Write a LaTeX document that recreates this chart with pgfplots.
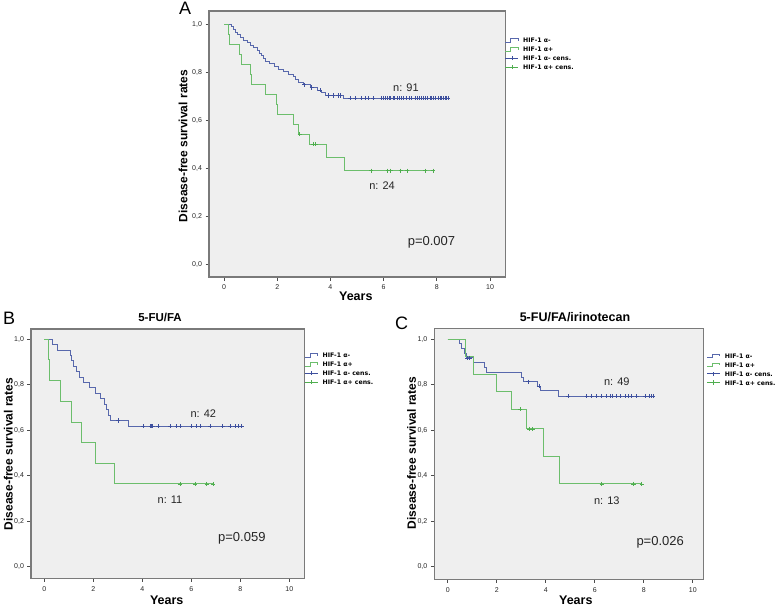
\documentclass[border=0pt]{standalone}
\usepackage{pgfplots}
\pgfplotsset{compat=1.18}
\usepackage{fontspec}
\setmainfont{Liberation Sans}
\newfontfamily\legfont{DejaVu Sans}
\definecolor{kmblue}{HTML}{5868AC}
\definecolor{kmbluec}{HTML}{3E509E}
\definecolor{kmgreen}{HTML}{6CBE6C}
\definecolor{kmgreenc}{HTML}{4FAE4F}
\definecolor{bgc}{HTML}{EFEFEF}
\definecolor{framec}{HTML}{7A7A7A}
\tikzset{
  annot/.style={font=\fontsize{11}{13}\selectfont, text=black!85},
  pval/.style={font=\fontsize{13}{15}\selectfont, text=black!85},
}
\pgfplotsset{
  kmaxis/.style={
    scale only axis,
    axis background/.style={fill=bgc},
    axis line style={draw=framec, line width=1.3pt},
    tick align=outside,
    major tick length=3.5pt,
    tick style={draw=black!70, line width=0.7pt},
    xtick pos=bottom, ytick pos=left,
    xtick={0,2,4,6,8,10}, xticklabels={0,2,4,6,8,10},
    ytick={0,0.2,0.4,0.6,0.8,1}, yticklabels={{0,0},{0,2},{0,4},{0,6},{0,8},{1,0}},
    ticklabel style={font=\fontsize{7}{8}\selectfont, text=black!85},
    xticklabel style={yshift=-1pt},
    legend cell align=left,
    legend style={draw=none, fill=none, anchor=north west,
      font=\legfont\bfseries\fontsize{6.2}{6.2}\selectfont, row sep=2.7pt,
      inner sep=0pt, nodes={inner sep=0.6pt, text height=5pt, text depth=0pt},
      /tikz/every odd column/.append style={column sep=4pt}},
  },
  kmline/.style={const plot, line width=0.95pt, no marks},
  bstep/.style={kmline, kmblue, legend image code/.code={
    \draw[kmblue, line width=0.6pt] (0pt,-1.8pt) -- (5pt,-1.8pt) -- (5pt,1.8pt) -- (12.5pt,1.8pt) -- (12.5pt,-0.5pt);}},
  gstep/.style={kmline, kmgreen, legend image code/.code={
    \draw[kmgreen, line width=0.6pt] (0pt,-1.8pt) -- (5pt,-1.8pt) -- (5pt,1.8pt) -- (12.5pt,1.8pt) -- (12.5pt,-0.5pt);}},
  bcens/.style={only marks, mark=+, mark size=2.1pt, mark options={kmbluec, line width=0.75pt}, legend image code/.code={
    \draw[kmbluec, line width=0.6pt] (0pt,0pt) -- (13pt,0pt); \draw[kmbluec, line width=0.6pt] (6.5pt,-2.2pt) -- (6.5pt,2.2pt);}},
  gcens/.style={only marks, mark=+, mark size=2.1pt, mark options={kmgreenc, line width=0.75pt}, legend image code/.code={
    \draw[kmgreenc, line width=0.6pt] (0pt,0pt) -- (13pt,0pt); \draw[kmgreenc, line width=0.6pt] (6.5pt,-2.2pt) -- (6.5pt,2.2pt);}},
}
\begin{document}
\begin{tikzpicture}[x=1pt,y=1pt]
\useasboundingbox (0,0) rectangle (778,606);
% ---------------- Panel A ----------------
\begin{axis}[kmaxis, at={(209pt,329pt)}, anchor=south west,
  width=296.7pt, height=266pt,
  xmin=-0.564, xmax=10.59, ymin=-0.054, ymax=1.055,
  legend style={at={(0.997,0.903)}}]
\addplot[bstep] coordinates {
(0,1.0)(0.27,0.989)(0.35,0.978)(0.42,0.967)(0.50,0.956)(0.62,0.945)(0.75,0.934)
(0.88,0.923)(1.00,0.912)(1.12,0.901)(1.25,0.890)(1.33,0.879)(1.42,0.868)(1.50,0.857)
(1.55,0.846)(1.70,0.835)(1.88,0.824)(2.05,0.813)(2.25,0.802)(2.42,0.791)(2.60,0.780)
(2.68,0.769)(2.80,0.758)(3.00,0.747)(3.25,0.736)(3.50,0.725)(3.68,0.714)(3.80,0.703)
(4.50,0.691)(8.43,0.691)};
\addlegendentry{HIF-1 α-}
\addplot[gstep] coordinates {
(0,1.0)(0.17,0.958)(0.20,0.917)(0.60,0.875)(0.65,0.833)(1.00,0.792)(1.05,0.750)
(1.57,0.708)(1.97,0.667)(2.02,0.625)(2.60,0.583)(2.79,0.542)(3.23,0.500)(3.86,0.444)
(4.52,0.389)(7.87,0.389)};
\addlegendentry{HIF-1 α+}
\addplot[bcens] coordinates {
(3.02,0.747)(3.30,0.736)(3.62,0.725)(3.93,0.703)(4.10,0.703)(4.30,0.703)(4.37,0.703)
(4.74,0.691)(4.92,0.691)(5.18,0.691)(5.30,0.691)(5.42,0.691)(5.61,0.691)(5.93,0.691)
(6.00,0.691)(6.07,0.691)(6.14,0.691)(6.20,0.691)(6.27,0.691)(6.35,0.691)(6.42,0.691)
(6.50,0.691)(6.58,0.691)(6.66,0.691)(6.74,0.691)(6.87,0.691)(6.95,0.691)(7.06,0.691)
(7.18,0.691)(7.26,0.691)(7.34,0.691)(7.43,0.691)(7.49,0.691)(7.57,0.691)(7.65,0.691)
(7.74,0.691)(7.80,0.691)(7.88,0.691)(7.96,0.691)(8.04,0.691)(8.12,0.691)(8.18,0.691)
(8.25,0.691)(8.31,0.691)(8.37,0.691)(8.43,0.691)};
\addlegendentry{HIF-1 α- cens.}
\addplot[gcens] coordinates {
(2.85,0.542)(3.35,0.500)(3.45,0.500)(5.53,0.389)(6.15,0.389)(6.27,0.389)(6.64,0.389)
(6.89,0.389)(7.56,0.389)(7.87,0.389)};
\addlegendentry{HIF-1 α+ cens.}
\node[annot] at (axis cs:6.84,0.737) {n: 91};
\node[annot] at (axis cs:5.94,0.327) {n: 24};
\node[pval] at (axis cs:7.8,0.09) {p=0.007};
\end{axis}
% ---------------- Panel B ----------------
\begin{axis}[kmaxis, at={(31pt,27.7pt)}, anchor=south west,
  width=273.3pt, height=249.3pt,
  xmin=-0.543, xmax=10.61, ymin=-0.051, ymax=1.045,
  legend style={at={(1.0,0.908)}}]
\addplot[bstep] coordinates {
(0,1.0)(0.34,0.976)(0.53,0.952)(1.05,0.929)(1.12,0.905)(1.20,0.881)(1.30,0.857)
(1.45,0.833)(1.60,0.810)(1.85,0.786)(2.10,0.762)(2.30,0.738)(2.45,0.714)(2.52,0.690)
(2.60,0.667)(2.68,0.643)(3.43,0.618)(8.06,0.618)};
\addlegendentry{HIF-1 α-}
\addplot[gstep] coordinates {
(0,1.0)(0.16,0.909)(0.20,0.818)(0.64,0.727)(1.09,0.636)(1.53,0.545)(2.10,0.455)
(2.85,0.364)(6.90,0.364)};
\addlegendentry{HIF-1 α+}
\addplot[bcens] coordinates {
(3.02,0.643)(4.04,0.618)(4.34,0.618)(4.38,0.618)(4.42,0.618)(4.65,0.618)(5.13,0.618)
(5.40,0.618)(5.54,0.618)(6.02,0.618)(6.22,0.618)(6.36,0.618)(6.76,0.618)(7.28,0.618)
(7.58,0.618)(7.78,0.618)(7.92,0.618)(8.06,0.618)};
\addlegendentry{HIF-1 α- cens.}
\addplot[gcens] coordinates {(5.54,0.364)(6.16,0.364)(6.63,0.364)(6.90,0.364)};
\addlegendentry{HIF-1 α+ cens.}
\node[annot] at (axis cs:6.49,0.675) {n: 42};
\node[annot] at (axis cs:5.13,0.293) {n: 11};
\node[pval] at (axis cs:8.06,0.125) {p=0.059};
\end{axis}
% ---------------- Panel C ----------------
\begin{axis}[kmaxis, at={(434.3pt,26.7pt)}, anchor=south west,
  width=269pt, height=251pt,
  xmin=-0.547, xmax=10.43, ymin=-0.055, ymax=1.048,
  legend style={at={(1.012,0.903)}}]
\addplot[bstep] coordinates {
(0,1.0)(0.50,0.980)(0.57,0.959)(0.68,0.939)(0.75,0.918)(1.05,0.896)(1.52,0.875)
(1.59,0.854)(2.99,0.834)(3.09,0.813)(3.67,0.793)(3.78,0.773)(4.51,0.750)(8.39,0.750)};
\addlegendentry{HIF-1 α-}
\addplot[gstep] coordinates {
(0,1.0)(0.73,0.923)(1.05,0.846)(2.00,0.769)(2.61,0.692)(3.22,0.606)(3.90,0.485)
(4.56,0.364)(7.92,0.364)};
\addlegendentry{HIF-1 α+}
\addplot[bcens] coordinates {
(0.80,0.918)(0.90,0.918)(3.29,0.813)(3.72,0.793)(4.92,0.750)(5.67,0.750)(5.88,0.750)
(6.08,0.750)(6.29,0.750)(6.49,0.750)(6.62,0.750)(6.73,0.750)(6.87,0.750)(7.03,0.750)
(7.24,0.750)(7.37,0.750)(7.51,0.750)(7.71,0.750)(8.05,0.750)(8.23,0.750)(8.33,0.750)
(8.39,0.750)};
\addlegendentry{HIF-1 α- cens.}
\addplot[gcens] coordinates {
(2.95,0.692)(3.33,0.606)(3.47,0.606)(6.28,0.364)(7.58,0.364)(7.92,0.364)};
\addlegendentry{HIF-1 α+ cens.}
\node[annot] at (axis cs:6.90,0.814) {n: 49};
\node[annot] at (axis cs:6.49,0.289) {n: 13};
\node[pval] at (axis cs:8.67,0.107) {p=0.026};
\end{axis}
% ---------------- Labels ----------------
\node[font=\fontsize{18}{18}\selectfont] at (185,597.5) {A};
\node[font=\fontsize{18}{18}\selectfont] at (9.2,287.7) {B};
\node[font=\fontsize{18}{18}\selectfont] at (401.7,282.7) {C};
\node[font=\bfseries\fontsize{11.5}{13}\selectfont] at (160,288.5) {5-FU/FA};
\node[font=\bfseries\fontsize{12.5}{14}\selectfont] at (575,289) {5-FU/FA/irinotecan};
\node[font=\bfseries\fontsize{12}{14}\selectfont, rotate=90] at (183,460) {Disease-free survival rates};
\node[font=\bfseries\fontsize{12}{14}\selectfont, rotate=90] at (8.3,152) {Disease-free survival rates};
\node[font=\bfseries\fontsize{12}{14}\selectfont, rotate=90] at (411.7,153) {Disease-free survival rates};
\node[font=\bfseries\fontsize{12.5}{14}\selectfont, inner sep=0pt, anchor=base] at (355.8,305.5) {Years};
\node[font=\bfseries\fontsize{12.5}{14}\selectfont, inner sep=0pt, anchor=base] at (166.7,1.5) {Years};
\node[font=\bfseries\fontsize{12.5}{14}\selectfont, inner sep=0pt, anchor=base] at (575.8,2) {Years};
\end{tikzpicture}
\end{document}
